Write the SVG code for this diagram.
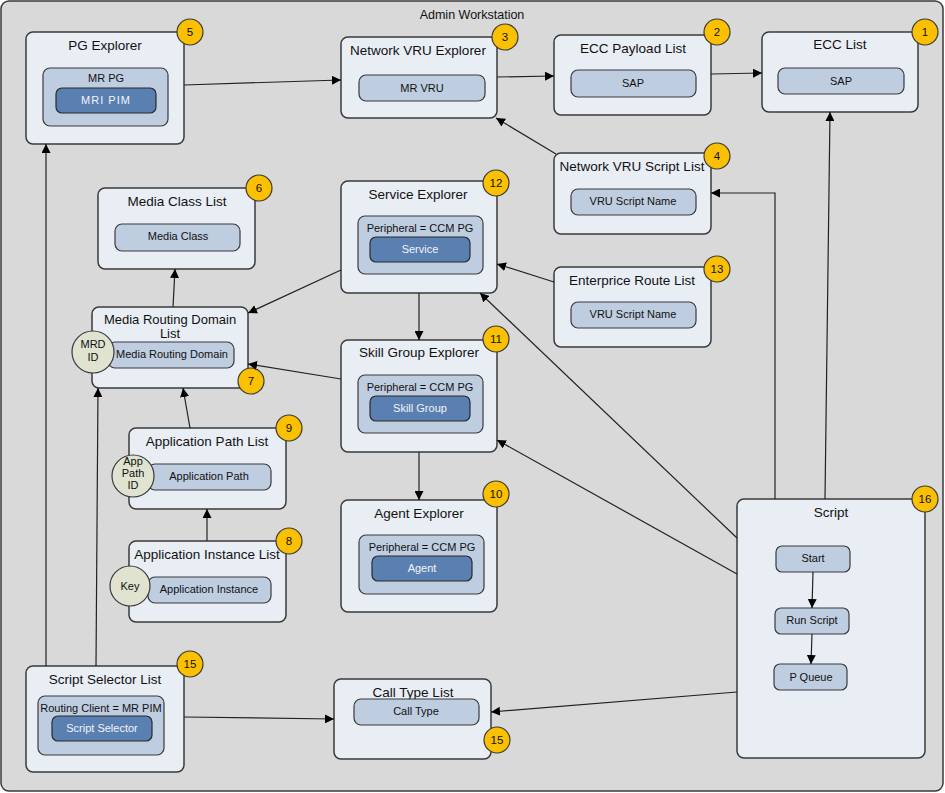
<svg xmlns="http://www.w3.org/2000/svg" width="945" height="793" viewBox="0 0 945 793">
<defs>
<marker id="ah" viewBox="0 0 10 10" refX="10" refY="5" markerWidth="9" markerHeight="9" markerUnits="userSpaceOnUse" orient="auto"><path d="M0,0 L10,5 L0,10 z" fill="#000"/></marker>
<style>
text{font-family:"Liberation Sans",Arial,sans-serif;text-anchor:middle;fill:#111}
.node{fill:#e9eef5;stroke:#3a3a3a;stroke-width:1.5}
.in{fill:#bfcde0;stroke:#3a3a3a;stroke-width:1.2}
.dk{fill:#5a7fb1;stroke:#2a2a2a;stroke-width:1.2}
.badge{fill:#fbc000;stroke:#3a3a3a;stroke-width:1.2}
.key{fill:#dfe3cf;stroke:#3a3a3a;stroke-width:1.2}
.t{font-size:13.5px}
.s{font-size:11px}
.w{font-size:11px;fill:#f2f4f8}
.b{font-size:11.5px}
.c path,.c polyline{fill:none;stroke:#222;stroke-width:1.2;marker-end:url(#ah)}
</style>
</defs>
<rect x="1" y="1" width="942" height="790" rx="8" fill="#d9d9d9" stroke="#3a3a3a" stroke-width="1.5"/>
<text x="472" y="19" style="font-size:12.5px">Admin Workstation</text>

<g id="pg-explorer">
<rect class="node" x="26" y="32" width="158" height="112" rx="7"/>
<text class="t" x="105" y="50">PG Explorer</text>
<rect class="in" x="43" y="68" width="125" height="58" rx="7"/>
<text class="s" x="106" y="82">MR PG</text>
<rect class="dk" x="56" y="88" width="100" height="25" rx="6"/>
<text class="w" x="106" y="104" style="letter-spacing:1px">MRI PIM</text>
<circle class="badge" cx="190" cy="32" r="13"/><text class="b" x="190" y="36">5</text>
</g>

<g id="network-vru-explorer">
<rect class="node" x="341" y="37" width="156" height="81" rx="7"/>
<text class="t" x="418" y="55">Network VRU Explorer</text>
<rect class="in" x="359" y="75" width="126" height="26" rx="7"/>
<text class="s" x="422" y="92">MR VRU</text>
<circle class="badge" cx="505" cy="37" r="13"/><text class="b" x="505" y="41">3</text>
</g>

<g id="ecc-payload-list">
<rect class="node" x="554" y="35" width="157" height="80" rx="7"/>
<text class="t" x="633" y="53">ECC Payload  List</text>
<rect class="in" x="571" y="70" width="125" height="27" rx="7"/>
<text class="s" x="633" y="87">SAP</text>
<circle class="badge" cx="717" cy="32" r="13"/><text class="b" x="717" y="36">2</text>
</g>

<g id="ecc-list">
<rect class="node" x="762" y="32" width="156" height="80" rx="7"/>
<text class="t" x="840" y="49">ECC  List</text>
<rect class="in" x="778" y="68" width="126" height="26" rx="7"/>
<text class="s" x="841" y="85">SAP</text>
<circle class="badge" cx="925" cy="32" r="13"/><text class="b" x="925" y="36">1</text>
</g>

<g id="network-vru-script-list">
<rect class="node" x="554" y="153" width="157" height="81" rx="7"/>
<text class="t" x="632" y="171">Network VRU Script List</text>
<rect class="in" x="571" y="189" width="125" height="26" rx="7"/>
<text class="s" x="633" y="205">VRU Script Name</text>
<circle class="badge" cx="717" cy="156" r="13"/><text class="b" x="717" y="160">4</text>
</g>

<g id="enterprice-route-list">
<rect class="node" x="554" y="267" width="157" height="80" rx="7"/>
<text class="t" x="632" y="285">Enterprice Route List</text>
<rect class="in" x="571" y="302" width="125" height="26" rx="7"/>
<text class="s" x="633" y="318">VRU Script Name</text>
<circle class="badge" cx="717" cy="269" r="13"/><text class="b" x="717" y="273">13</text>
</g>

<g id="service-explorer">
<rect class="node" x="341" y="181" width="156" height="112" rx="7"/>
<text class="t" x="418" y="199">Service Explorer</text>
<rect class="in" x="358" y="216" width="125" height="58" rx="7"/>
<text class="s" x="420" y="232">Peripheral = CCM PG</text>
<rect class="dk" x="370" y="237" width="100" height="25" rx="6"/>
<text class="w" x="420" y="253">Service</text>
<circle class="badge" cx="496" cy="183" r="13"/><text class="b" x="496" y="187">12</text>
</g>

<g id="skill-group-explorer">
<rect class="node" x="341" y="340" width="156" height="112" rx="7"/>
<text class="t" x="419" y="357">Skill Group Explorer</text>
<rect class="in" x="358" y="375" width="125" height="58" rx="7"/>
<text class="s" x="420" y="391">Peripheral = CCM PG</text>
<rect class="dk" x="370" y="396" width="100" height="25" rx="6"/>
<text class="w" x="420" y="412">Skill Group</text>
<circle class="badge" cx="496" cy="339" r="13"/><text class="b" x="496" y="343">11</text>
</g>

<g id="agent-explorer">
<rect class="node" x="341" y="500" width="156" height="112" rx="7"/>
<text class="t" x="419" y="518">Agent Explorer</text>
<rect class="in" x="359" y="535" width="125" height="59" rx="7"/>
<text class="s" x="422" y="551">Peripheral = CCM PG</text>
<rect class="dk" x="372" y="556" width="100" height="25" rx="6"/>
<text class="w" x="422" y="572">Agent</text>
<circle class="badge" cx="496" cy="494" r="13"/><text class="b" x="496" y="498">10</text>
</g>

<g id="media-class-list">
<rect class="node" x="98" y="188" width="157" height="81" rx="7"/>
<text class="t" x="177" y="206">Media Class List</text>
<rect class="in" x="115" y="224" width="125" height="27" rx="7"/>
<text class="s" x="178" y="240">Media Class</text>
<circle class="badge" cx="259" cy="188" r="13"/><text class="b" x="259" y="192">6</text>
</g>

<g id="media-routing-domain-list">
<rect class="node" x="92" y="307" width="156" height="81" rx="7"/>
<text class="t" x="170" y="324" style="font-size:13px">Media Routing Domain</text>
<text class="t" x="170" y="338" style="font-size:13px">List</text>
<rect class="in" x="108" y="342" width="126" height="26" rx="7"/>
<text class="s" x="172" y="358">Media Routing Domain</text>
<circle class="key" cx="93" cy="352" r="21"/>
<text class="s" x="93" y="348">MRD</text><text class="s" x="93" y="361">ID</text>
<circle class="badge" cx="251" cy="381" r="13"/><text class="b" x="251" y="385">7</text>
</g>

<g id="application-path-list">
<rect class="node" x="129" y="428" width="157" height="81" rx="7"/>
<text class="t" x="207" y="446">Application Path List</text>
<rect class="in" x="148" y="464" width="123" height="26" rx="7"/>
<text class="s" x="209" y="480">Application Path</text>
<circle class="key" cx="133" cy="476" r="21"/>
<text class="s" x="133" y="465">App</text><text class="s" x="133" y="477">Path</text><text class="s" x="133" y="489">ID</text>
<circle class="badge" cx="289" cy="428" r="13"/><text class="b" x="289" y="432">9</text>
</g>

<g id="application-instance-list">
<rect class="node" x="129" y="541" width="157" height="81" rx="7"/>
<text class="t" x="207" y="559">Application Instance List</text>
<rect class="in" x="148" y="577" width="123" height="26" rx="7"/>
<text class="s" x="209" y="593">Application Instance</text>
<circle class="key" cx="130" cy="586" r="20"/>
<text class="s" x="130" y="590">Key</text>
<circle class="badge" cx="289" cy="541" r="13"/><text class="b" x="289" y="545">8</text>
</g>

<g id="script-selector-list">
<rect class="node" x="26" y="666" width="158" height="106" rx="7"/>
<text class="t" x="105" y="684">Script Selector List</text>
<rect class="in" x="38" y="696" width="126" height="59" rx="7"/>
<text class="s" x="101" y="712">Routing Client = MR PIM</text>
<rect class="dk" x="52" y="716" width="100" height="25" rx="6"/>
<text class="w" x="102" y="732">Script Selector</text>
<circle class="badge" cx="190" cy="664" r="13"/><text class="b" x="190" y="668">15</text>
</g>

<g id="call-type-list">
<rect class="node" x="334" y="679" width="157" height="80" rx="7"/>
<text class="t" x="413" y="697">Call Type List</text>
<rect class="in" x="354" y="699" width="125" height="26" rx="7"/>
<text class="s" x="416" y="715">Call Type</text>
<circle class="badge" cx="497" cy="740" r="13"/><text class="b" x="497" y="744">15</text>
</g>

<g id="script">
<rect class="node" x="737" y="499" width="188" height="259" rx="7"/>
<text class="t" x="831" y="517">Script</text>
<rect class="in" x="776" y="546" width="74" height="26" rx="6"/>
<text class="s" x="813" y="562">Start</text>
<rect class="in" x="775" y="608" width="74" height="26" rx="6"/>
<text class="s" x="812" y="624">Run Script</text>
<rect class="in" x="774" y="664" width="73" height="26" rx="6"/>
<text class="s" x="811" y="681">P Queue</text>
<circle class="badge" cx="925" cy="499" r="13"/><text class="b" x="925" y="503">16</text>
</g>

<g class="c" id="connectors">
<path d="M184,85 L341,80"/>
<path d="M497,77 L554,76"/>
<path d="M711,74 L762,73"/>
<path d="M556,154 L496,118"/>
<polyline points="775,499 775,193 711,193"/>
<path d="M825,499 L830,112"/>
<path d="M554,282 L497,264"/>
<path d="M341,270 L248,313"/>
<path d="M419,293 L419,340"/>
<path d="M341,379 L248,364"/>
<path d="M419,452 L419,500"/>
<path d="M173,307 L175,269"/>
<path d="M190,428 L183,388"/>
<path d="M207,541 L207,509"/>
<path d="M46,666 L46,144"/>
<path d="M96,666 L98,388"/>
<path d="M184,717 L334,719"/>
<path d="M737,692 L491,712"/>
<path d="M737,574 L497,440"/>
<path d="M737,538 L480,293"/>
<path d="M813,572 L812,608"/>
<path d="M812,634 L811,664"/>
</g>
</svg>
